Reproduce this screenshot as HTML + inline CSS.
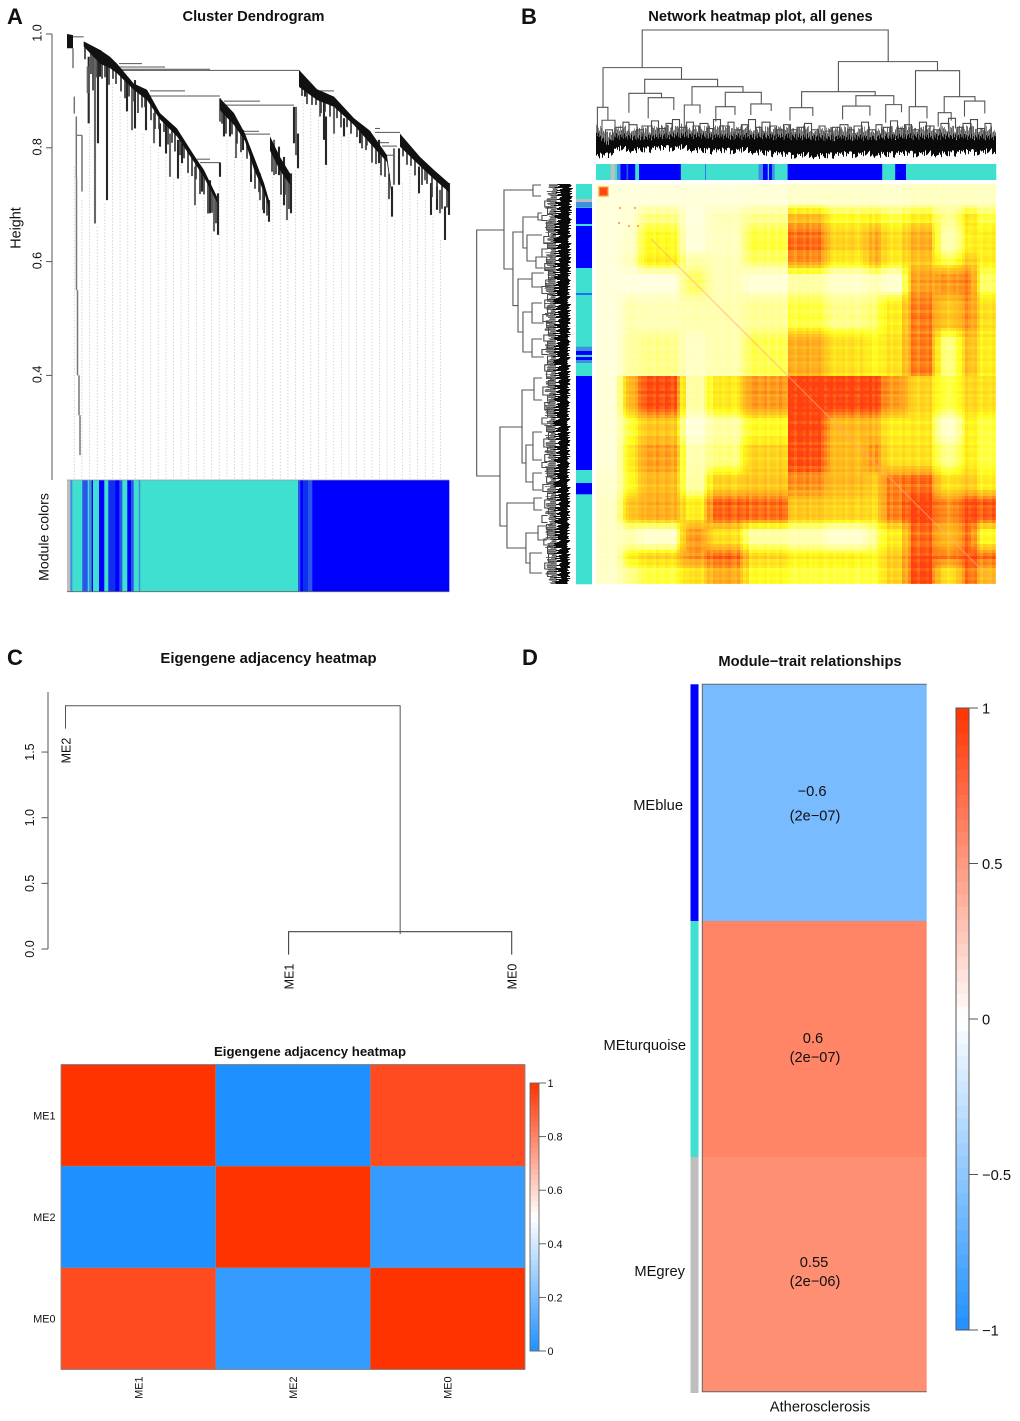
<!DOCTYPE html>
<html lang="en">
<head>
<meta charset="utf-8">
<title>WGCNA module analysis figure</title>
<style>
html,body{margin:0;padding:0;background:#fff;}
svg{display:block;font-family:"Liberation Sans",Arial,sans-serif;}
text{fill:#111;}
.t{font-weight:bold;}
</style>
</head>
<body>
<svg id="fig" xmlns="http://www.w3.org/2000/svg" width="1020" height="1421" viewBox="0 0 1020 1421">
<rect x="0" y="0" width="1020" height="1421" fill="#fff"/>
<text x="7" y="24" font-size="22" class="t">A</text>
<text x="521" y="24" font-size="22" class="t">B</text>
<text x="7" y="665" font-size="22" class="t">C</text>
<text x="522" y="665" font-size="22" class="t">D</text>
<text x="253.5" y="21" font-size="14.7" class="t" text-anchor="middle">Cluster Dendrogram</text>
<text x="760.5" y="21" font-size="14.7" class="t" text-anchor="middle">Network heatmap plot, all genes</text>
<text x="268.5" y="663" font-size="14.85" class="t" text-anchor="middle">Eigengene adjacency heatmap</text>
<text x="810" y="666" font-size="14.7" class="t" text-anchor="middle">Module−trait relationships</text>
<text x="310" y="1056" font-size="13.2" class="t" text-anchor="middle">Eigengene adjacency heatmap</text>
<text transform="translate(20.5,228) rotate(-90)" font-size="14.4" text-anchor="middle">Height</text>
<text transform="translate(48.5,537) rotate(-90)" font-size="14.1" text-anchor="middle">Module colors</text>
<g id="panelA"></g>
<g id="panelB"></g>
<g id="panelC"></g>
<g id="panelD"></g>
</svg>
<script>
/* ---------- shared colours ---------- */
const TURQ = '#40E0D0', BLUE = '#0000FF', GREY = '#BEBEBE', MIX1 = '#2A55E8', MIX2 = '#3F8FDF', MIX3 = '#1030F0';

/* ---------- panel A data: gene rank 0-382, height 0-1 ---------- */
const aTicks = [1.0, 0.8, 0.6, 0.4];
const aBandRanks = [[0,6],[16.7,33,43,50,66.7,80],[80,93,110,127,137,150],[153,167,178],[178,187,197,202],[203,213,223],[232,250,267,287,303,320,325],[333,353,367,382]];
const aBandTops = [[1,.998],[.987,.972,.96,.948,.913,.902],[.902,.861,.834,.787,.761,.714],[.887,.861,.825],[.825,.784,.738,.708],[.82,.784,.755],[.937,.903,.89,.852,.83,.787,.72],[.825,.784,.761,.738]];
const aBandBottoms = [[.975,.975],[.978,.948,.94,.931,.902,.884],[.884,.85,.82,.775,.748,.704],[.866,.84,.812],[.812,.762,.722,.695],[.795,.76,.735],[.907,.884,.872,.84,.808,.775,.712],[.802,.768,.745,.722]];
const aStemRanks = [6,7.3,9.3,15,9.5,10.5,12,13,21.7,28,31,40,20.7,33,60,65,68,79,87,93,99,103,111,115,128,135,143,147,151,153,153,157,163,169,176,184,193,197,202,207,212,217,220,224,227,229,231,238,253,257,259,267,277,293,300,325,312,327,332,352,358,364,370,373,378,382];
const aStemTops = [.975,.89,.855,.822,.746,.55,.40,.33,.96,.972,.972,.96,.943,.972,.919,.913,.919,.896,.861,.843,.843,.825,.814,.808,.767,.761,.743,.72,.72,.774,.887,.861,.855,.837,.831,.784,.755,.732,.708,.814,.802,.784,.755,.755,.872,.872,.825,.907,.884,.884,.855,.872,.852,.837,.825,.732,.814,.799,.799,.767,.761,.738,.732,.726,.697,.738];
const aStemBottoms = [.94,.86,.746,.723,.55,.40,.33,.26,.843,.667,.808,.708,.896,.925,.864,.831,.834,.831,.808,.802,.79,.749,.746,.773,.699,.723,.685,.653,.647,.749,.846,.82,.82,.782,.796,.74,.708,.685,.67,.752,.752,.699,.673,.685,.808,.787,.764,.89,.855,.814,.77,.825,.82,.808,.804,.679,.773,.735,.735,.72,.743,.682,.691,.685,.638,.682];
const aBranchStarts = [6,9.3,52,52,52,52,83,83,157,157,177,177,130,133,308,308,313,315,318,253];
const aBranchEnds = [16.7,15,75,98,143,232,118,153,193,227,192,203,143,153,333,313,322,330,328,267];
const aBranchHeights = [.995,.822,.948,.942,.938,.936,.9,.891,.882,.875,.829,.824,.78,.774,.827,.834,.809,.803,.787,.9];
const aGuideTops = [.767,.708,.837,.661,.702,.913,.89,.861,.828,.825,.802,.799,.784,.746,.77,.767,.696,.714,.65,.743,.814,.784,.79,.738,.708,.673,.749,.749,.673,.761,.884,.869,.855,.767,.825,.82,.825,.825,.802,.808,.767,.738,.673,.738,.767,.72,.708,.679,.638];
const aFringe = [[18,.02],[24,.035],[26,.06],[30,.03],[35,.025],[38,.02],[42,.03],[46,.015],[49,.02],[54,.025],[58,.03],[62,.02],[67,.02],[71,.035],[75,.02],[78,.015],[84,.025],[88,.03],[92,.02],[97,.015],[101,.03],[105,.02],[108,.03],[113,.025],[117,.02],[121,.035],[125,.03],[129,.025],[133,.04],[137,.03],[141,.05],[145,.035],[149,.04],[155,.02],[159,.03],[165,.02],[170,.025],[174,.03],[180,.02],[184,.025],[188,.03],[192,.02],[196,.035],[200,.025],[205,.03],[209,.02],[214,.04],[218,.03],[222,.045],[235,.012],[240,.02],[245,.015],[249,.01],[254,.02],[258,.015],[263,.02],[270,.015],[274,.025],[280,.015],[284,.02],[290,.015],[295,.025],[299,.02],[305,.03],[309,.025],[314,.035],[318,.03],[322,.04],[336,.012],[340,.02],[344,.015],[348,.025],[355,.03],[360,.02],[365,.035],[370,.03],[375,.04],[380,.03]];
const aModuleStarts = [0,3.3,5.3,15.3,20.7,22,24.7,26,32,37.3,41.3,48.3,52.3,55.3,60.3,64,66.7,71.7,73.3,231,233.3,236,241,245.3];
const aModuleColors = [GREY,MIX2,TURQ,MIX1,TURQ,MIX2,BLUE,TURQ,BLUE,TURQ,MIX3,BLUE,MIX1,TURQ,BLUE,MIX1,TURQ,MIX2,TURQ,MIX1,BLUE,MIX3,MIX1,BLUE];

/* ---------- panel B data: rank 0-400, height 0-1 ---------- */
const bTopLeft = [46.2,7,48.7,32.9,52.2,96,129.3,119.8,154.8,88.3,242.4,205.6,194,259.9,246.6,289.7,319.5,313.2,348.2,368.5,342.2,1.4,6];
const bTopRight = [292.2,85.5,121.6,65.5,77.8,147,165.3,139,175.2,104,341.5,279.2,216.8,297.8,273.9,305.5,363.6,331,379,388.8,355.2,11.9,19];
const bTopLeftDrop = [.706,.396,.505,.354,.31,.414,.401,.284,.336,.245,.518,.393,.292,.406,.302,.276,.401,.193,.354,.323,.245,.193,.19];
const bTopRightDrop = [.753,.615,.557,.471,.375,.513,.422,.336,.367,.349,.682,.487,.328,.417,.331,.357,.479,.31,.445,.349,.292,.292,.2];
const bTopMerge = [1,.706,.615,.505,.471,.557,.513,.401,.422,.414,.753,.518,.393,.487,.406,.417,.682,.401,.479,.445,.354,.396,.295];
const bTopForkPos = [13,23,30,37,44,51,59,66,73,80,87,94,100,108,114,121,128,135,142,149,156,163,170,177,184,191,198,205,212,219,226,233,240,248,255,262,269,276,283,291,298,305,312,320,327,334,341,349,356,364,371,378,385,392];
const bTopForkSpan = [7,8,6,8,7,10,7,8,6,7,8,7,6,8,6,7,8,6,8,7,7,6,8,7,8,7,6,8,7,7,6,8,7,8,6,8,7,7,6,7,7,6,7,6,7,8,7,8,7,6,8,7,7,6];
const bTopForkHeight = [.22,.24,.28,.26,.22,.25,.29,.23,.27,.3,.24,.28,.25,.27,.23,.3,.25,.28,.22,.26,.3,.24,.28,.25,.22,.26,.22,.24,.27,.22,.25,.21,.24,.26,.22,.25,.28,.22,.26,.24,.29,.23,.26,.22,.28,.25,.22,.27,.31,.24,.27,.3,.23,.27];
const bTopMassRanks = [0,10,20,45,85,120,150,190,230,270,310,350,400];
const bTopMassTop = [.19,.12,.17,.16,.18,.17,.17,.17,.16,.16,.17,.17,.16];
const bTopMassBottom = [.01,.015,.07,.065,.08,.05,.06,.02,.02,.03,.03,.035,.05];
const bLeafJitter = [.012,-.02,.03,-.008,.018,-.03,.005,.025,-.015,.034,-.022,.008,-.035,.02,.002,-.012,.028,-.026,.014,-.004,.032,-.018,.01,-.032,.022,-.006,.016,-.024,.036,-.01,.004,-.028,.02,.012,-.016,.026,-.034,.006,.018,-.02,.03,-.002,-.014,.024,-.03,.01,.034,-.008,-.022,.015,.003,-.027,.029,-.012,.021,-.036,.007,.017,-.019,.027,-.005];

const bSideA = [46,6,1,48,33,51,29,73,95,89,128,119,155,243,206,194,261,248,289,319,314,349,342,369];
const bSideB = [292,85,12,121.6,64,77,36,84,148,103,168,139,173,342,279,216,298,276,306,364,326,379,356,389];
const bSideDropA = [.706,.396,.31,.503,.342,.299,.3,.25,.406,.28,.406,.3,.3,.513,.385,.3,.396,.3,.3,.385,.3,.342,.25,.3];
const bSideDropB = [.749,.61,.31,.556,.46,.364,.3,.28,.503,.3,.406,.28,.28,.674,.471,.3,.396,.3,.3,.471,.3,.428,.25,.3];
const bSideMerge = [.998,.706,.396,.61,.503,.46,.342,.364,.556,.406,.503,.406,.406,.749,.513,.385,.471,.396,.396,.674,.385,.471,.342,.428];
const bSideForkPos = [20,27,34,42,49,56,62,69,76,83,91,99,106,113,120,126,134,141,147,154,161,168,176,184,191,199,207,214,222,229,237,245,252,259,266,274,281,288,296,304,312,320,327,335,343,351,358,366,374,382,390];
const bSideForkSpan = [6,7,5,8,6,7,5,8,6,7,8,6,7,5,8,6,7,5,8,6,7,5,8,6,7,5,8,6,7,8,6,5,7,8,6,7,5,8,6,7,5,8,6,7,5,8,6,7,8,6,5];
const bSideForkHeight = [.27,.24,.3,.25,.23,.28,.24,.3,.25,.27,.23,.26,.3,.24,.27,.24,.29,.25,.23,.28,.24,.3,.24,.27,.25,.23,.29,.24,.27,.24,.3,.25,.23,.28,.24,.27,.3,.24,.25,.29,.24,.27,.23,.3,.25,.24,.28,.24,.23,.27,.24];
const bSideMassPos = [0,20,60,120,180,240,300,360,400];
const bSideMassLeft = [.15,.165,.17,.175,.17,.175,.17,.165,.16];
const bSideMassRight = [-.012,-.005,.005,.01,.012,.015,.015,.015,.015];

const bColStarts = [0,14.7,18.9,21,24.5,30.5,32.2,39.2,43,84.8,109.3,110,162.5,167,171.7,173,175.9,178.7,191.6,286.2,299.2,310];
const bColColors = [TURQ,GREY,TURQ,MIX2,BLUE,MIX1,BLUE,TURQ,BLUE,TURQ,MIX1,TURQ,MIX2,BLUE,TURQ,BLUE,MIX2,TURQ,BLUE,TURQ,BLUE,TURQ];
const bRowStarts = [0,15,18,23.5,24,40,42,84,109.5,110.5,162.7,167,171,173,176,179,192,286,299,310.3];
const bRowColors = [TURQ,GREY,MIX2,TURQ,BLUE,TURQ,BLUE,TURQ,BLUE,TURQ,MIX2,BLUE,TURQ,BLUE,MIX2,TURQ,BLUE,TURQ,BLUE,TURQ];

const bHeatColEdges = [0,26,43,85,112,148,192,230,273,286,311,340,365,380,400];
const bHeatRowEdges = [0,25,43,70,85,112,148,192,230,257,287,311,340,365,380,400];
const bHeatRow0 = [.02,.02,.02,.02,.02,.03,.06,.06,.06,.05,.08,.08,.08,.08];
const bHeatRow1 = [.02,.04,.22,.02,.1,.2,.6,.35,.4,.3,.4,.2,.45,.3];
const bHeatRow2 = [.02,.06,.35,.02,.08,.3,.85,.5,.7,.45,.65,.12,.4,.4];
const bHeatRow3 = [.02,.1,.4,.15,.1,.25,.72,.4,.65,.4,.55,.3,.55,.4];
const bHeatRow4 = [.02,.01,.01,.25,.1,.03,.15,.06,.12,.05,.7,.72,.8,.25];
const bHeatRow5 = [.02,.12,.1,.12,.12,.18,.3,.2,.25,.4,.8,.55,.75,.45];
const bHeatRow6 = [.02,.15,.2,.07,.12,.28,.65,.45,.35,.45,.8,.22,.6,.4];
const bHeatRow7 = [.03,.6,.95,.15,.42,.72,1,.97,.97,.72,.5,.3,.5,.45];
const bHeatRow8 = [.03,.3,.55,.02,.15,.35,.97,.6,.6,.4,.42,.06,.4,.3];
const bHeatRow9 = [.03,.4,.7,.12,.22,.5,.95,.6,.75,.45,.45,.2,.42,.3];
const bHeatRow10 = [.05,.35,.6,.15,.5,.55,.75,.6,.5,.8,.85,.45,.55,.4];
const bHeatRow11 = [.07,.55,.65,.4,.88,.85,.55,.5,.45,.8,.98,.75,.95,.9];
const bHeatRow12 = [.07,.12,.05,.7,.45,.15,.12,.05,.2,.4,.85,.6,.85,.35];
const bHeatRow13 = [.07,.4,.5,.75,.88,.5,.4,.4,.35,.55,.95,.8,.95,.85];
const bHeatRow14 = [.06,.2,.3,.45,.65,.35,.3,.3,.3,.5,.95,.45,.85,.6];
const bHeatMatrix = [bHeatRow0,bHeatRow1,bHeatRow2,bHeatRow3,bHeatRow4,bHeatRow5,bHeatRow6,bHeatRow7,bHeatRow8,bHeatRow9,bHeatRow10,bHeatRow11,bHeatRow12,bHeatRow13,bHeatRow14];
const bColStreak = [.05,-.06,.02,.08,-.04,-.09,.06,.01,-.03,.09,-.07,.03,.06,-.05,-.01,.07,-.08,.04,.02,-.06,.09,-.02,-.05,.07,.01,-.09,.05,.03,-.04,.08,-.07,.02,-.03,.06,.04,-.08,.01,.07,-.05,.03,-.01];
const bRowStreak = [-.03,.07,-.06,.02,.05,-.08,.04,.09,-.02,-.05,.06,.01,-.09,.08,-.04,.03,.06,-.07,.02,.05,-.03,.08,-.06,-.01,.04,.07,-.09,.03,-.05,.06,.01,-.04,.09,-.07,.02,-.02,.05];
const bDotCols = [23,38,32,41,22];
const bDotRows = [23,23,41,41,38];
const bHotBlockStart = 3;
const bHotBlockEnd = 12;

/* ---------- panel C data ---------- */
const cTicks = [0, 0.5, 1.0, 1.5];
const cLeaves = ['ME2','ME1','ME0'];
const cLowMerge = 0.132;
const cTopMerge = 1.853;
const cHang = 0.175;
const cHeatLabels = ['ME1','ME2','ME0'];
const cHeatRow1 = [1, 0, 0.94];
const cHeatRow2 = [0, 1, 0.05];
const cHeatRow3 = [0.94, 0.05, 1];
const cHeatValues = [cHeatRow1, cHeatRow2, cHeatRow3];
const cBarTicks = [0, 0.2, 0.4, 0.6, 0.8, 1];
const cBarTickLabels = ['0','0.2','0.4','0.6','0.8','1'];

/* ---------- panel D data ---------- */
const dModules = ['MEblue','MEturquoise','MEgrey'];
const dModuleColors = [BLUE, TURQ, GREY];
const dCorrelations = [-0.6, 0.6, 0.55];
const dCorrLabels = ['−0.6','0.6','0.55'];
const dPValues = ['(2e−07)','(2e−07)','(2e−06)'];
const dBarTicks = [1, 0.5, 0, -0.5, -1];
const dBarTickLabels = ['1','0.5','0','−0.5','−1'];
const dTrait = 'Atherosclerosis';

/* ---------- helpers ---------- */
const NS = 'http://www.w3.org/2000/svg';
function make(tag, attrs, parent) {
  const e = document.createElementNS(NS, tag);
  for (const k in attrs) e.setAttribute(k, attrs[k]);
  parent.appendChild(e);
  return e;
}
function seg(parent, x1, y1, x2, y2, stroke, w) {
  return make('line', {x1: x1, y1: y1, x2: x2, y2: y2, stroke: stroke, 'stroke-width': w}, parent);
}
function box(parent, x, y, w, h, fill) {
  return make('rect', {x: x, y: y, width: w, height: h, fill: fill}, parent);
}
function txt(parent, str, x, y, size, anchor) {
  const e = make('text', {x: x, y: y, 'font-size': size, 'text-anchor': anchor || 'start'}, parent);
  e.textContent = str;
  return e;
}
function rotTxt(parent, str, x, y, size, anchor) {
  const e = make('text', {transform: 'translate(' + x + ',' + y + ') rotate(-90)', 'font-size': size, 'text-anchor': anchor || 'middle'}, parent);
  e.textContent = str;
  return e;
}
function interp(xs, ys, x) {
  if (x <= xs[0]) return ys[0];
  for (let i = 1; i < xs.length; i++) {
    if (x <= xs[i]) return ys[i - 1] + (ys[i] - ys[i - 1]) * (x - xs[i - 1]) / (xs[i] - xs[i - 1]);
  }
  return ys[ys.length - 1];
}
function bucket(edges, v) {
  for (let i = 0; i < edges.length - 2; i++) if (v < edges[i + 1]) return i;
  return edges.length - 2;
}
function hex(n) { return Math.max(0, Math.min(255, Math.round(n))).toString(16).padStart(2, '0'); }
function blueWhiteRed(t) { /* t in 0..1 */
  if (t < 0.5) {
    const k = t / 0.5;
    return '#' + hex(30 + 225 * k) + hex(144 + 111 * k) + 'ff';
  }
  const k = (t - 0.5) / 0.5;
  return '#ff' + hex(255 - 204 * k) + hex(255 * (1 - k));
}
const heatStops = [0, .2, .35, .55, .7, .85, 1];
const heatR = [255, 255, 255, 255, 255, 255, 255];
const heatG = [255, 255, 255, 200, 165, 112, 64];
const heatB = [228, 144, 32, 32, 32, 24, 16];
function heatColor(v) {
  return '#' + hex(interp(heatStops, heatR, v)) + hex(interp(heatStops, heatG, v)) + hex(interp(heatStops, heatB, v));
}

/* ---------- panel A ---------- */
(function () {
  const g = document.getElementById('panelA');
  const xA = r => 67 + r;
  const yA = h => 34 + (1 - h) * 569;
  let el;
  el = seg(g, 52, 34, 52, 480, '#555', 1);
  
  
  aTicks.forEach(t => {
    let e = seg(g, 46, yA(t), 52, yA(t), '#555', 1);
    
    
    e = rotTxt(g, t.toFixed(1), 41.5, yA(t) - 1, 12.5);
    
    
  });
  aGuideTops.forEach((h, i) => {
    const x = 7.3 + i * 7.63;
    const e = make('line', {x1: xA(x), y1: yA(h), x2: xA(x), y2: 479, stroke: '#cfcfcf', 'stroke-width': 0.9, 'stroke-dasharray': '1.4 1.8'}, g);
    
    
  });
  aBranchStarts.forEach((s, i) => {
    const e = seg(g, xA(s), yA(aBranchHeights[i]), xA(aBranchEnds[i]), yA(aBranchHeights[i]), '#555', 1);
    
    
  });
  aStemRanks.forEach((r, i) => {
    const wide = i < 8 ? 1.5 : 2.1;
    const e = seg(g, xA(r), yA(aStemTops[i]), xA(r), yA(aStemBottoms[i]), i < 8 ? '#777' : (i % 3 === 0 ? '#666' : '#262626'), wide);
    
    
  });
  aFringe.forEach(pair => {
    const r = pair[0];
    const bi = aBandRanks.findIndex(rs => r >= rs[0] && r <= rs[rs.length - 1]);
    if (bi < 0) return;
    const b = interp(aBandRanks[bi], aBandBottoms[bi], r);
    const e = seg(g, xA(r), yA(b + .005), xA(r), yA(b - pair[1]), '#3a3a3a', 1.7);
    
    
  });
  aBandRanks.forEach((ranks, i) => {
    const up = ranks.map((r, j) => xA(r) + ',' + yA(aBandTops[i][j]));
    const dn = ranks.map((r, j) => xA(r) + ',' + yA(aBandBottoms[i][j])).reverse();
    const e = make('polygon', {points: up.concat(dn).join(' '), fill: '#111'}, g);
    
    
  });
  aModuleStarts.forEach((s, i) => {
    const end = i + 1 < aModuleStarts.length ? aModuleStarts[i + 1] : 382;
    const e = box(g, xA(s), 480, end - s + 0.3, 112, aModuleColors[i]);
    
    
  });
  el = seg(g, 67, 480, 449, 480, '#999', 0.8);
  
  
  el = seg(g, 67, 591.7, 449, 591.7, '#666', 0.8);
  
  
})();

/* ---------- panel B ---------- */
(function () {
  const g = document.getElementById('panelB');
  const X0 = 596, Y0 = 184;
  const xR = r => X0 + r;
  const yR = r => Y0 + r;
  const yT = h => 158 - 128 * h;
  const xS = h => 570 - 93.5 * h;
  const ST = '#4a4a4a';

  /* top dendrogram dense leaves */
  for (let i = 0; i < 400; i++) {
    const top = interp(bTopMassRanks, bTopMassTop, i);
    const bot = interp(bTopMassRanks, bTopMassBottom, i);
    const jit = bLeafJitter[i % bLeafJitter.length];
    const jit2 = bLeafJitter[(i * 7) % bLeafJitter.length];
    let e = seg(g, xR(i) + .5, yT(top + .06 + jit2 * .8), xR(i) + .5, yT(top - .02), i % 2 ? '#666' : '#8a8a8a', 1);
    
    
    e = seg(g, xR(i) + .5, yT(top + jit * .7), xR(i) + .5, yT(bot + jit2 * .8), '#0a0a0a', 1);
    
    
  }
  bTopForkPos.forEach((p, i) => {
    const s = bTopForkSpan[i] / 2, h = bTopForkHeight[i];
    const e = make('polyline', {points: xR(p - s) + ',' + yT(h - .08) + ' ' + xR(p - s) + ',' + yT(h) + ' ' + xR(p + s) + ',' + yT(h) + ' ' + xR(p + s) + ',' + yT(h - .08), fill: 'none', stroke: ST, 'stroke-width': 1.1}, g);
    
    
  });
  bTopLeft.forEach((l, i) => {
    const r = bTopRight[i], m = bTopMerge[i];
    const e = make('polyline', {points: xR(l) + ',' + yT(bTopLeftDrop[i]) + ' ' + xR(l) + ',' + yT(m) + ' ' + xR(r) + ',' + yT(m) + ' ' + xR(r) + ',' + yT(bTopRightDrop[i]), fill: 'none', stroke: '#555', 'stroke-width': 1.1}, g);
    
    
  });

  /* side dendrogram dense leaves */
  for (let i = 0; i < 400; i++) {
    const lh = interp(bSideMassPos, bSideMassLeft, i);
    const rh = interp(bSideMassPos, bSideMassRight, i);
    const jit = bLeafJitter[(i * 3) % bLeafJitter.length];
    const jit2 = bLeafJitter[(i * 11) % bLeafJitter.length];
    let e = seg(g, xS(lh + .065 + jit2), yR(i) + .5, xS(lh - .02), yR(i) + .5, i % 2 ? '#666' : '#8a8a8a', 1);
    
    
    e = seg(g, xS(lh + jit * 1.2 - .03), yR(i) + .5, xS(rh + jit * .55), yR(i) + .5, '#0a0a0a', 1);
    
    
  }
  bSideForkPos.forEach((p, i) => {
    const s = bSideForkSpan[i] / 2, h = bSideForkHeight[i];
    const e = make('polyline', {points: xS(h - .06) + ',' + yR(p - s) + ' ' + xS(h) + ',' + yR(p - s) + ' ' + xS(h) + ',' + yR(p + s) + ' ' + xS(h - .06) + ',' + yR(p + s), fill: 'none', stroke: ST, 'stroke-width': 1.1}, g);
    
    
  });
  bSideA.forEach((a, i) => {
    const b = bSideB[i], m = bSideMerge[i];
    const e = make('polyline', {points: xS(bSideDropA[i]) + ',' + yR(a) + ' ' + xS(m) + ',' + yR(a) + ' ' + xS(m) + ',' + yR(b) + ' ' + xS(bSideDropB[i]) + ',' + yR(b), fill: 'none', stroke: '#555', 'stroke-width': 1.1}, g);
    
    
  });

  /* module colour bars */
  bColStarts.forEach((s, i) => {
    const end = i + 1 < bColStarts.length ? bColStarts[i + 1] : 400;
    const e = box(g, xR(s), 164, end - s + .3, 16, bColColors[i]);
    
    
  });
  bRowStarts.forEach((s, i) => {
    const end = i + 1 < bRowStarts.length ? bRowStarts[i + 1] : 400;
    const e = box(g, 576, yR(s), 16, end - s + .3, bRowColors[i]);
    
    
  });

  /* heatmap: block values softened across non-module boundaries */
  const cell = 3;
  const cells = Math.ceil(400 / cell);
  const hard = 192;
  const offs = [-5, 0, 5];
  function softValue(rc, rr) {
    let sum = 0;
    for (const dy of offs) {
      for (const dx of offs) {
        let xx = rc + dx, yy = rr + dy;
        if ((xx < hard) !== (rc < hard)) xx = rc;
        if ((yy < hard) !== (rr < hard)) yy = rr;
        sum += bHeatMatrix[bucket(bHeatRowEdges, Math.max(0, Math.min(399, yy)))][bucket(bHeatColEdges, Math.max(0, Math.min(399, xx)))];
      }
    }
    return sum / 9;
  }
  const hm = make('g', {'shape-rendering': 'crispEdges'}, g);
  
  
  for (let j = 0; j < cells; j++) {
    for (let i = 0; i < cells; i++) {
      const base = softValue(i * cell + cell / 2, j * cell + cell / 2);
      const k = 0.12 + base;
      const v = Math.min(1, Math.max(0, base + k * (bColStreak[i % bColStreak.length] + bRowStreak[j % bRowStreak.length]) * .7));
      const w = Math.min(cell, 400 - i * cell), h = Math.min(cell, 400 - j * cell);
      const e = box(hm, xR(i * cell), yR(j * cell), w, h, heatColor(v));
      
      
    }
  }
  let el = seg(g, xR(55), yR(55), xR(400), yR(400), '#ffac78', 1);
  
  
  el.setAttribute('opacity', '0.7');
  el = make('rect', {x: xR(bHotBlockStart), y: yR(bHotBlockStart), width: bHotBlockEnd - bHotBlockStart, height: bHotBlockEnd - bHotBlockStart, fill: '#ff4a18', stroke: '#ffa23c', 'stroke-width': 1.2}, g);
  
  
  bDotCols.forEach((c, i) => {
    const e = box(g, xR(c), yR(bDotRows[i]), 2, 2, '#ffa77a');
    
    
  });
})();

/* ---------- panel C ---------- */
(function () {
  const g = document.getElementById('panelC');
  const yC = h => 949 - h * 131.3;
  const xL = i => 65.5 + i * 223.1;
  let el;
  el = seg(g, 48, 692, 48, 949, '#555', 1);
  
  
  cTicks.forEach(t => {
    let e = seg(g, 41.5, yC(t), 48, yC(t), '#555', 1);
    
    
    e = rotTxt(g, t.toFixed(1), 34, yC(t), 12.5);
    
    
  });
  const midX = (xL(1) + xL(2)) / 2;
  el = make('polyline', {points: xL(0) + ',' + yC(cTopMerge - cHang) + ' ' + xL(0) + ',' + yC(cTopMerge) + ' ' + midX + ',' + yC(cTopMerge) + ' ' + midX + ',' + (yC(cLowMerge) + 2.5), fill: 'none', stroke: '#555', 'stroke-width': 1}, g);
  
  
  el = make('polyline', {points: xL(1) + ',' + yC(cLowMerge - cHang) + ' ' + xL(1) + ',' + yC(cLowMerge) + ' ' + xL(2) + ',' + yC(cLowMerge) + ' ' + xL(2) + ',' + yC(cLowMerge - cHang), fill: 'none', stroke: '#444', 'stroke-width': 1.1}, g);
  
  
  cLeaves.forEach((name, i) => {
    const base = i === 0 ? yC(cTopMerge - cHang) : yC(cLowMerge - cHang);
    const e = rotTxt(g, name, xL(i) + 4.8, base + 9, 12.5, 'end');
    
    
  });

  /* adjacency heatmap */
  const hx0 = 61, hw = 154.67, hy0 = 1064.5, hh = 101.67;
  cHeatValues.forEach((row, j) => {
    row.forEach((v, i) => {
      const e = box(g, hx0 + i * hw, hy0 + j * hh, hw, hh, blueWhiteRed(v));
      
      
    });
  });
  for (let k = 0; k <= 3; k++) {
    let e = seg(g, hx0 + k * hw, hy0, hx0 + k * hw, hy0 + 3 * hh, '#888', k % 3 ? .5 : .9);
    
    
    e = seg(g, hx0, hy0 + k * hh, hx0 + 3 * hw, hy0 + k * hh, '#888', k % 3 ? .5 : .9);
    
    
  }
  cHeatLabels.forEach((name, i) => {
    let e = txt(g, name, 55.5, hy0 + (i + .5) * hh + 4, 10.8, 'end');
    
    
    e = rotTxt(g, name, hx0 + (i + .5) * hw + 4, 1376.5, 10.8, 'end');
    
    
  });

  /* colour bar */
  const cx0 = 530, cw = 9, ct = 1083, cb = 1351;
  const yB = v => cb - (cb - ct) * v;
  for (let i = 0; i < 50; i++) {
    const e = box(g, cx0, yB((i + 1) / 50), cw, (cb - ct) / 50 + .4, blueWhiteRed((i + .5) / 50));
    
    
  }
  el = make('rect', {x: cx0, y: ct, width: cw, height: cb - ct, fill: 'none', stroke: '#666', 'stroke-width': .9}, g);
  
  
  cBarTicks.forEach((v, i) => {
    let e = seg(g, cx0 + cw, yB(v), 546, yB(v), '#555', .9);
    
    
    e = txt(g, cBarTickLabels[i], 547.5, yB(v) + 4, 10.8);
    
    
  });
})();

/* ---------- panel D ---------- */
(function () {
  const g = document.getElementById('panelD');
  const yEdge = [684.3, 921, 1157, 1392];
  const valueY = [796, 1043, 1267];
  const pY = [820.5, 1062, 1286];
  const valueX = [812, 813, 814];
  const labelEnd = [683, 686, 685];
  const labelY = [810, 1050, 1276];
  const toT = c => (c + 1) / 2;
  dModules.forEach((m, i) => {
    let e = box(g, 690.5, yEdge[i], 8, yEdge[i + 1] - yEdge[i] + (i === 2 ? 1 : 0), dModuleColors[i]);
    
    
    e = box(g, 702.3, yEdge[i], 224.4, yEdge[i + 1] - yEdge[i], blueWhiteRed(toT(dCorrelations[i])));
    
    
    e = txt(g, m, labelEnd[i], labelY[i], 14.7, 'end');
    
    
    e = txt(g, dCorrLabels[i], valueX[i], valueY[i], 14.7, 'middle');
    
    
    e = txt(g, dPValues[i], 815, pY[i], 14.6, 'middle');
    
    
  });
  let el = make('polyline', {points: '926.7,684.3 702.3,684.3 702.3,1391.8 926.7,1391.8', fill: 'none', stroke: '#666', 'stroke-width': 1}, g);
  
  
  el = txt(g, dTrait, 820, 1411.5, 14.7, 'middle');
  
  

  const cx0 = 956, cw = 13, ct = 708, cb = 1330;
  const yB = v => ct + (1 - v) / 2 * (cb - ct);
  for (let i = 0; i < 50; i++) {
    const e = box(g, cx0, ct + i * (cb - ct) / 50, cw, (cb - ct) / 50 + .4, blueWhiteRed(1 - (i + .5) / 50));
    
    
  }
  el = make('rect', {x: cx0, y: ct, width: cw, height: cb - ct, fill: 'none', stroke: '#555', 'stroke-width': 1}, g);
  
  
  dBarTicks.forEach((v, i) => {
    let e = seg(g, cx0 + cw, yB(v), 978, yB(v), '#555', 1);
    
    
    e = txt(g, dBarTickLabels[i], 982, yB(v) + 5.3, 14.7);
    
    
  });
})();
</script>
</body>
</html>
